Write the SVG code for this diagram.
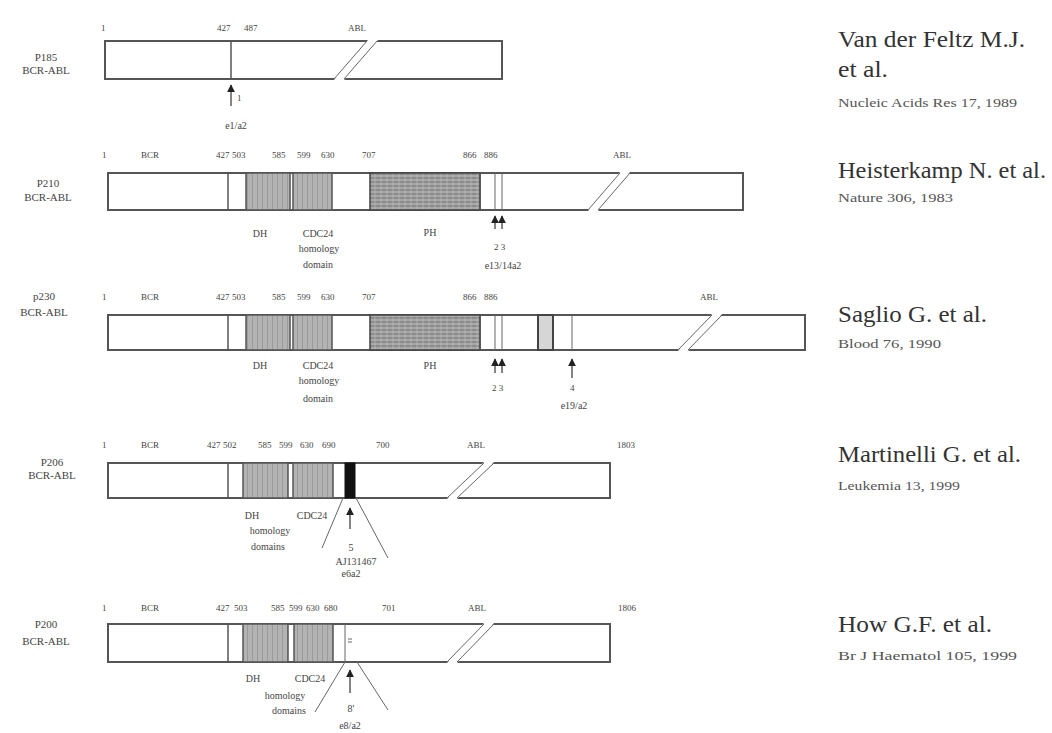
<svg xmlns="http://www.w3.org/2000/svg" width="1052" height="733" viewBox="0 0 1052 733">
<defs>
<pattern id="vh" width="5" height="6" patternUnits="userSpaceOnUse"><rect width="5" height="6" fill="#b3b3b3"/><line x1="2.5" y1="0" x2="2.5" y2="6" stroke="#9a9a9a" stroke-width="1"/></pattern>
<pattern id="ph" width="6" height="4" patternUnits="userSpaceOnUse"><rect width="6" height="4" fill="#a8a8a8"/><line x1="0" y1="2" x2="6" y2="2" stroke="#6e6e6e" stroke-width="1"/><line x1="3" y1="0" x2="3" y2="4" stroke="#c0c0c0" stroke-width="0.6"/></pattern>
<marker id="ah" viewBox="0 0 10 10" refX="9" refY="5" markerUnits="userSpaceOnUse" markerWidth="8" markerHeight="8" orient="auto"><path d="M0,0 L10,5 L0,10 Z" fill="#222"/></marker>
</defs>
<style>
.bar{fill:#fff;stroke:#555;stroke-width:2}
.ln{stroke:#555;stroke-width:1.5;fill:none}
.thin{stroke:#666;stroke-width:1;fill:none}
.dh{fill:url(#vh);stroke:#555;stroke-width:1.5}
.phb{fill:url(#ph);stroke:#444;stroke-width:1.5}
.t{font-family:"Liberation Serif",serif;fill:#444}
.s{font-size:9px}
.lab{font-size:10px;text-anchor:middle}
.nm{font-size:11px;text-anchor:middle}
.cite{font-family:"Liberation Serif",serif;fill:#333;font-size:23px}
.ref{font-family:"Liberation Serif",serif;fill:#555;font-size:12px}
.arr{stroke:#333;stroke-width:1.2;fill:none}
</style>

<g id="row1">
<text class="t nm" x="46" y="61">P185</text>
<text class="t nm" x="46" y="74">BCR-ABL</text>
<text class="t s" x="101" y="31">1</text>
<text class="t s" x="217" y="31">427</text>
<text class="t s" x="244" y="31">487</text>
<text class="t s" x="348" y="31">ABL</text>
<rect class="bar" x="105" y="41" width="397" height="38"/>
<line class="ln" x1="231" y1="41" x2="231" y2="79"/>
<polygon points="334,80 368,40 378,40 344,80" fill="#fff"/>
<line class="thin" x1="334" y1="79" x2="367" y2="41"/>
<line class="thin" x1="344" y1="79" x2="377" y2="41"/>
<text class="t s" x="237" y="101">1</text>
<text class="t lab" x="236" y="129">e1/a2</text>
</g>

<g id="row2">
<text class="t nm" x="48" y="187">P210</text>
<text class="t nm" x="48" y="201">BCR-ABL</text>
<text class="t s" x="102" y="158">1</text>
<text class="t s" x="141" y="158">BCR</text>
<text class="t s" x="216" y="158">427</text>
<text class="t s" x="232" y="158">503</text>
<text class="t s" x="272" y="158">585</text>
<text class="t s" x="297" y="158">599</text>
<text class="t s" x="321" y="158">630</text>
<text class="t s" x="362" y="158">707</text>
<text class="t s" x="463" y="158">866</text>
<text class="t s" x="484" y="158">886</text>
<text class="t s" x="613" y="158">ABL</text>
<rect class="bar" x="108" y="173" width="635" height="37"/>
<line class="ln" x1="228" y1="173" x2="228" y2="210"/>
<rect class="dh" x="246" y="173" width="44" height="37"/>
<rect class="dh" x="293" y="173" width="39" height="37"/>
<rect class="phb" x="370" y="173" width="110" height="37"/>
<line class="ln" x1="480" y1="173" x2="480" y2="210" stroke-width="2.5"/>
<line class="thin" x1="495" y1="173" x2="495" y2="210"/>
<line class="thin" x1="502" y1="173" x2="502" y2="210"/>
<polygon points="588,211 620,172 630,172 598,211" fill="#fff"/>
<line class="thin" x1="588" y1="210" x2="620" y2="173"/>
<line class="thin" x1="598" y1="210" x2="630" y2="173"/>
<text class="t lab" x="260" y="237">DH</text>
<text class="t lab" x="318" y="237">CDC24</text>
<text class="t lab" x="319" y="252">homology</text>
<text class="t lab" x="318" y="268">domain</text>
<text class="t lab" x="430" y="236">PH</text>
<text class="t s" x="494" y="250">2 3</text>
<text class="t lab" x="503" y="269">e13/14a2</text>
</g>

<g id="row3">
<text class="t nm" x="44" y="300">p230</text>
<text class="t nm" x="44" y="316">BCR-ABL</text>
<text class="t s" x="102" y="300">1</text>
<text class="t s" x="141" y="300">BCR</text>
<text class="t s" x="216" y="300">427</text>
<text class="t s" x="232" y="300">503</text>
<text class="t s" x="272" y="300">585</text>
<text class="t s" x="297" y="300">599</text>
<text class="t s" x="321" y="300">630</text>
<text class="t s" x="362" y="300">707</text>
<text class="t s" x="463" y="300">866</text>
<text class="t s" x="484" y="300">886</text>
<text class="t s" x="700" y="300">ABL</text>
<rect class="bar" x="108" y="315" width="697" height="35"/>
<line class="ln" x1="228" y1="315" x2="228" y2="350"/>
<rect class="dh" x="246" y="315" width="44" height="35"/>
<rect class="dh" x="293" y="315" width="39" height="35"/>
<rect class="phb" x="370" y="315" width="110" height="35"/>
<line class="ln" x1="480" y1="315" x2="480" y2="350" stroke-width="2.5"/>
<line class="thin" x1="495" y1="315" x2="495" y2="350"/>
<line class="thin" x1="502" y1="315" x2="502" y2="350"/>
<rect x="538" y="315" width="15" height="35" fill="#d6d6d6" stroke="#444" stroke-width="2"/>
<line class="thin" x1="572" y1="315" x2="572" y2="350"/>
<polygon points="678,351 712,314 722,314 688,351" fill="#fff"/>
<line class="thin" x1="678" y1="350" x2="712" y2="315"/>
<line class="thin" x1="688" y1="350" x2="722" y2="315"/>
<text class="t lab" x="260" y="369">DH</text>
<text class="t lab" x="318" y="369">CDC24</text>
<text class="t lab" x="319" y="384">homology</text>
<text class="t lab" x="318" y="402">domain</text>
<text class="t lab" x="430" y="369">PH</text>
<text class="t s" x="492" y="391">2 3</text>
<text class="t s" x="570" y="391">4</text>
<text class="t lab" x="574" y="409">e19/a2</text>
</g>

<g id="row4">
<text class="t nm" x="52" y="466">P206</text>
<text class="t nm" x="52" y="479">BCR-ABL</text>
<text class="t s" x="102" y="448">1</text>
<text class="t s" x="141" y="448">BCR</text>
<text class="t s" x="207" y="448">427</text>
<text class="t s" x="223" y="448">502</text>
<text class="t s" x="258" y="448">585</text>
<text class="t s" x="279" y="448">599</text>
<text class="t s" x="300" y="448">630</text>
<text class="t s" x="322" y="448">690</text>
<text class="t s" x="376" y="448">700</text>
<text class="t s" x="467" y="448">ABL</text>
<text class="t s" x="617" y="448">1803</text>
<rect class="bar" x="108" y="463" width="502" height="35"/>
<line class="ln" x1="228" y1="463" x2="228" y2="498"/>
<rect class="dh" x="243" y="463" width="45" height="35"/>
<rect class="dh" x="293" y="463" width="40" height="35"/>
<rect x="345" y="463" width="10" height="35" fill="#111" stroke="#111"/>
<polygon points="447,499 484,462 494,462 457,499" fill="#fff"/>
<line class="thin" x1="447" y1="498" x2="484" y2="463"/>
<line class="thin" x1="457" y1="498" x2="494" y2="463"/>
<text class="t lab" x="252" y="519">DH</text>
<text class="t lab" x="312" y="519">CDC24</text>
<text class="t lab" x="270" y="534">homology</text>
<text class="t lab" x="268" y="550">domains</text>
<line class="thin" x1="343" y1="498" x2="322" y2="548"/>
<line class="thin" x1="356" y1="498" x2="388" y2="558"/>
<text class="t lab" x="351" y="551">5</text>
<text class="t lab" x="356" y="565">AJ131467</text>
<text class="t lab" x="351" y="577">e6a2</text>
</g>

<g id="row5">
<text class="t nm" x="46" y="628">P200</text>
<text class="t nm" x="46" y="645">BCR-ABL</text>
<text class="t s" x="102" y="611">1</text>
<text class="t s" x="141" y="611">BCR</text>
<text class="t s" x="216" y="611">427</text>
<text class="t s" x="234" y="611">503</text>
<text class="t s" x="271" y="611">585</text>
<text class="t s" x="289" y="611">599</text>
<text class="t s" x="306" y="611">630</text>
<text class="t s" x="324" y="611">680</text>
<text class="t s" x="382" y="611">701</text>
<text class="t s" x="468" y="611">ABL</text>
<text class="t s" x="618" y="611">1806</text>
<rect class="bar" x="108" y="624" width="502" height="38"/>
<line class="ln" x1="228" y1="624" x2="228" y2="662"/>
<rect class="dh" x="243" y="624" width="45" height="38"/>
<rect class="dh" x="294" y="624" width="39" height="38"/>
<line class="thin" x1="345" y1="624" x2="345" y2="662"/>
<line class="thin" x1="348" y1="639" x2="352" y2="639"/>
<line class="thin" x1="348" y1="642" x2="352" y2="642"/>
<polygon points="447,663 484,623 494,623 457,663" fill="#fff"/>
<line class="thin" x1="447" y1="662" x2="484" y2="624"/>
<line class="thin" x1="457" y1="662" x2="494" y2="624"/>
<text class="t lab" x="253" y="682">DH</text>
<text class="t lab" x="310" y="682">CDC24</text>
<text class="t lab" x="285" y="699">homology</text>
<text class="t lab" x="289" y="714">domains</text>
<line class="thin" x1="345" y1="662" x2="315" y2="712"/>
<line class="thin" x1="357" y1="662" x2="388" y2="710"/>
<text class="t lab" x="351" y="712">8'</text>
<text class="t lab" x="350" y="729">e8/a2</text>
</g>

<g id="connectors">
<line class="arr" x1="231" y1="106" x2="231" y2="85" marker-end="url(#ah)"/>
<line class="arr" x1="495" y1="229" x2="495" y2="216" marker-end="url(#ah)"/>
<line class="arr" x1="502" y1="229" x2="502" y2="216" marker-end="url(#ah)"/>
<line class="arr" x1="495" y1="373" x2="495" y2="359" marker-end="url(#ah)"/>
<line class="arr" x1="502" y1="373" x2="502" y2="359" marker-end="url(#ah)"/>
<line class="arr" x1="572" y1="378" x2="572" y2="359" marker-end="url(#ah)"/>
<line class="arr" x1="350" y1="529" x2="350" y2="508" marker-end="url(#ah)"/>
<line class="arr" x1="350" y1="693" x2="350" y2="670" marker-end="url(#ah)"/>
</g>

<g id="citations">
<text class="cite" x="838" y="47" textLength="187" lengthAdjust="spacingAndGlyphs">Van der Feltz M.J.</text>
<text class="cite" x="838" y="77" textLength="50" lengthAdjust="spacingAndGlyphs">et al.</text>
<text class="ref" x="838" y="107" textLength="179" lengthAdjust="spacingAndGlyphs">Nucleic Acids Res 17, 1989</text>
<text class="cite" x="838" y="178" textLength="208" lengthAdjust="spacingAndGlyphs">Heisterkamp N. et al.</text>
<text class="ref" x="838" y="202" textLength="115" lengthAdjust="spacingAndGlyphs">Nature 306, 1983</text>
<text class="cite" x="838" y="322" textLength="149" lengthAdjust="spacingAndGlyphs">Saglio G. et al.</text>
<text class="ref" x="838" y="348" textLength="103" lengthAdjust="spacingAndGlyphs">Blood 76, 1990</text>
<text class="cite" x="838" y="462" textLength="183" lengthAdjust="spacingAndGlyphs">Martinelli G. et al.</text>
<text class="ref" x="838" y="490" textLength="122" lengthAdjust="spacingAndGlyphs">Leukemia 13, 1999</text>
<text class="cite" x="838" y="632" textLength="154" lengthAdjust="spacingAndGlyphs">How G.F. et al.</text>
<text class="ref" x="838" y="660" textLength="179" lengthAdjust="spacingAndGlyphs">Br J Haematol 105, 1999</text>
</g>
</svg>
